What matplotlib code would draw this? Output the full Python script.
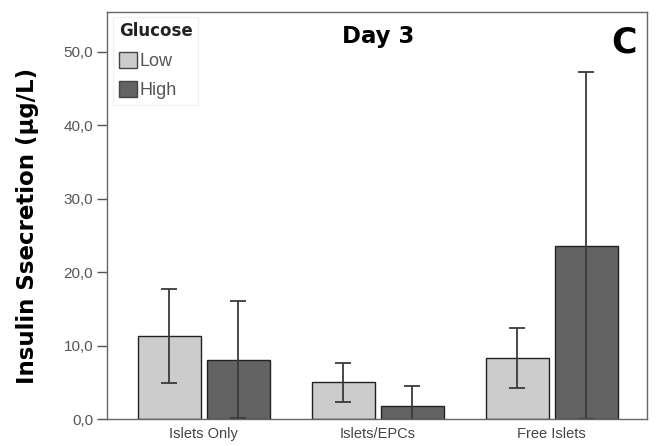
import matplotlib.pyplot as plt
import numpy as np
from matplotlib.patches import Patch
from matplotlib.ticker import FuncFormatter

#--------------- data -----------------------#
groups = ['Islets Only', 'Islets/EPCs', 'Free Islets']
low_mean = [11.3, 5.0, 8.3]
low_err = [6.35, 2.66, 4.05]
high_mean = [8.1, 1.8, 23.6]
high_err = [7.9, 2.7, 23.6]
yticks = [0, 10, 20, 30, 40, 50]

#--------------- plot -----------------------#
plt.rcParams['font.family'] = ['Liberation Sans', 'DejaVu Sans']
heavy = ['DejaVu Sans']

fig = plt.figure(figsize=(6.56, 4.46), dpi=100)
ax = fig.add_axes([0.163, 0.0605, 0.823, 0.9125])

x = np.arange(len(groups))
w = 0.362
off = 0.198
light, dark = '#cccccc', '#636363'
ekw = dict(ecolor='#3a3a3a', elinewidth=1.3, capsize=6, capthick=1.3)

ax.bar(x - off, low_mean, w, color=light, edgecolor='#222222', linewidth=1.0,
       yerr=low_err, error_kw=ekw, zorder=2)
ax.bar(x + off, high_mean, w, color=dark, edgecolor='#222222', linewidth=1.0,
       yerr=high_err, error_kw=ekw, zorder=2)

ax.set_xlim(-0.557, 2.546)
ax.set_ylim(0, 55.4)
ax.set_xticks(x)
ax.set_xticklabels(groups, fontsize=10.5, color='#444444')
ax.tick_params(axis='x', length=0, pad=6)
ax.set_yticks(yticks)
ax.yaxis.set_major_formatter(FuncFormatter(lambda v, p: f'{v:.1f}'.replace('.', ',')))
ax.tick_params(axis='y', length=7, width=1, color='#555555', labelsize=11,
               labelcolor='#555555', pad=3)
for s in ax.spines.values():
    s.set_color('#666666')
    s.set_linewidth(1.0)

ax.set_ylabel('Insulin Ssecretion (µg/L)', fontsize=16.5, fontweight='bold',
              family=heavy, va='center')
ax.yaxis.set_label_coords(-0.148, 0.474)

ax.text(0.502, 0.941, 'Day 3', transform=ax.transAxes, fontsize=16.5,
        fontweight='bold', family=heavy, ha='center', va='center')
ax.text(0.957, 0.924, 'C', transform=ax.transAxes, fontsize=25,
        fontweight='bold', family=heavy, ha='center', va='center')

handles = [Patch(facecolor=light, edgecolor='#444444', label='Low'),
           Patch(facecolor=dark, edgecolor='#444444', label='High')]
leg = ax.legend(handles=handles, title='Glucose', loc='upper left',
                bbox_to_anchor=(0.012, 0.988), fontsize=13, frameon=True,
                fancybox=False, edgecolor='#eeeeee', handlelength=1.0,
                handleheight=1.0, handletextpad=0.15, labelspacing=0.62,
                borderpad=0.3, borderaxespad=0.0, labelcolor='#555555')
leg.get_title().set_fontweight('bold')
leg.get_title().set_fontsize(12)
leg.get_title().set_family(heavy)
leg.get_title().set_color('#222222')
leg._legend_box.align = 'left'

fig.savefig('out.png', dpi=100)
